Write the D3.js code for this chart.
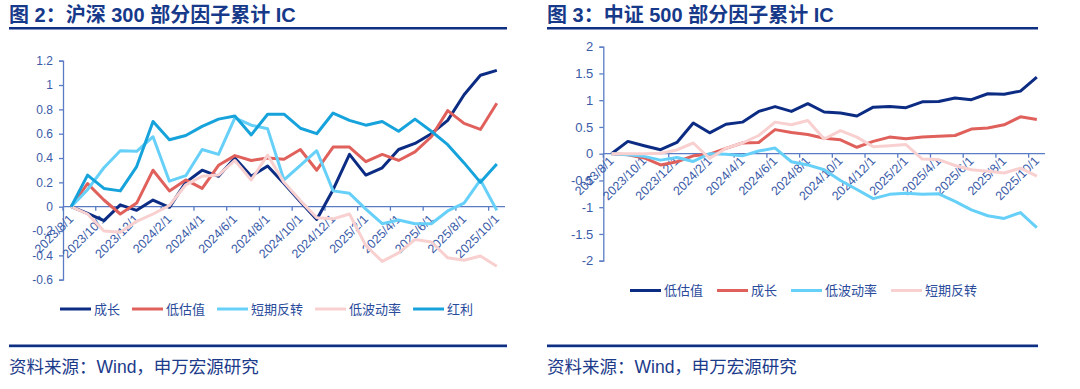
<!DOCTYPE html>
<html>
<head>
<meta charset="utf-8">
<script src="https://cdn.jsdelivr.net/npm/d3@7"></script>
<style>
  html, body { margin: 0; padding: 0; background: #fff; }
  svg { display: block; }
  text { font-family: "Liberation Sans", Arial, "Noto Sans CJK SC", sans-serif; }
  .cjk { font-family: "Liberation Sans", Arial, "Noto Sans CJK SC", sans-serif; }
</style>
</head>
<body>
<svg id="chart" width="1080" height="389"></svg>
<script>
// months on the category axis (labels shown every other month)
const months = [
    "2023/8/1", "2023/9/1", "2023/10/1", "2023/11/1", "2023/12/1",
    "2024/1/1", "2024/2/1", "2024/3/1", "2024/4/1", "2024/5/1", "2024/6/1",
    "2024/7/1", "2024/8/1", "2024/9/1", "2024/10/1", "2024/11/1", "2024/12/1",
    "2025/1/1", "2025/2/1", "2025/3/1", "2025/4/1", "2025/5/1", "2025/6/1",
    "2025/7/1", "2025/8/1", "2025/9/1", "2025/10/1"
];

// 图2 沪深300
const hsNames = ["成长", "低估值", "短期反转", "低波动率", "红利"];
const hsGrowth = [0, -0.055, -0.115, 0.015, -0.03, 0.055, -0.005, 0.2, 0.30, 0.25, 0.40, 0.25, 0.335, 0.19, 0.04, -0.105, 0.14, 0.43, 0.26, 0.32, 0.47, 0.52, 0.60, 0.71, 0.92, 1.08, 1.12];
const hsValue = [0, 0.19, 0.055, -0.06, 0.03, 0.30, 0.13, 0.22, 0.15, 0.34, 0.42, 0.38, 0.40, 0.39, 0.47, 0.30, 0.49, 0.49, 0.37, 0.43, 0.38, 0.45, 0.575, 0.79, 0.685, 0.635, 0.85];
const hsReversal = [0, 0.14, 0.32, 0.46, 0.455, 0.575, 0.21, 0.255, 0.47, 0.43, 0.73, 0.67, 0.64, 0.22, 0.34, 0.46, 0.13, 0.11, -0.02, -0.14, -0.11, -0.14, -0.14, -0.035, 0.03, 0.22, -0.03];
const hsLowVol = [0, -0.06, -0.2, -0.21, -0.12, -0.06, 0.01, 0.18, 0.25, 0.26, 0.38, 0.22, 0.425, 0.2, 0.05, -0.09, -0.1, -0.06, -0.32, -0.45, -0.38, -0.27, -0.29, -0.42, -0.44, -0.405, -0.49];
const hsDividend = [0, 0.26, 0.15, 0.13, 0.33, 0.70, 0.55, 0.585, 0.66, 0.72, 0.745, 0.59, 0.76, 0.76, 0.645, 0.60, 0.77, 0.71, 0.67, 0.70, 0.62, 0.72, 0.62, 0.51, 0.36, 0.20, 0.35];
const hsTicks = [-0.6, -0.4, -0.2, 0, 0.2, 0.4, 0.6, 0.8, 1, 1.2];

// 图3 中证500
const zzNames = ["低估值", "成长", "低波动率", "短期反转"];
const zzValue = [0, 0.23, 0.15, 0.075, 0.21, 0.575, 0.39, 0.55, 0.59, 0.79, 0.88, 0.79, 0.935, 0.78, 0.76, 0.705, 0.87, 0.88, 0.86, 0.97, 0.975, 1.04, 1.01, 1.12, 1.11, 1.17, 1.43];
const zzGrowth = [0, -0.02, -0.08, -0.21, -0.15, -0.04, -0.01, 0.1, 0.2, 0.21, 0.45, 0.395, 0.36, 0.29, 0.26, 0.12, 0.23, 0.31, 0.28, 0.31, 0.325, 0.34, 0.46, 0.48, 0.54, 0.69, 0.64];
const zzLowVol = [0, -0.02, -0.05, -0.12, -0.07, -0.145, 0, -0.01, -0.04, 0.05, 0.105, -0.15, -0.21, -0.3, -0.5, -0.67, -0.84, -0.76, -0.74, -0.76, -0.75, -0.89, -1.05, -1.16, -1.21, -1.1, -1.38];
const zzReversal = [0, 0, 0, 0.01, 0.07, 0.2, -0.09, 0.1, 0.2, 0.34, 0.59, 0.54, 0.62, 0.275, 0.43, 0.31, 0.13, 0.15, 0.17, -0.1, -0.11, -0.22, -0.3, -0.33, -0.36, -0.27, -0.42];
const zzTicks = [-2, -1.5, -1, -0.5, 0, 0.5, 1, 1.5, 2];

const colors = ["#0c2c84", "#e0605c", "#66d0f8", "#f9d0d0", "#16a3dc"];
const titleColor = "#17398a";
const tickColor = "#3a5ba8";
const axisColor = "#5a7cc4";

const svg = d3.select("#chart");

function drawPanel(opt) {
    const g = svg.append("g");

    // title + rule
    g.append("text")
        .attr("class", "cjk")
        .attr("x", opt.left).attr("y", 22)
        .attr("font-size", 20).attr("font-weight", "bold")
        .attr("fill", titleColor)
        .text(opt.title);
    g.append("rect").attr("x", opt.left).attr("y", 27).attr("width", opt.ruleW).attr("height", 2.5).attr("fill", "#0e2f82");

    const x = d3.scaleBand().domain(months).range([opt.x0, opt.x1]).paddingInner(0).paddingOuter(0);
    const y = d3.scaleLinear().domain(opt.domain).range([opt.yBottom, opt.yTop]);

    // y axis
    const yAxis = g.append("g")
        .attr("transform", `translate(${opt.x0},0)`)
        .call(d3.axisLeft(y).tickValues(opt.ticks).tickSize(4).tickPadding(6).tickFormat(d => String(d)));
    yAxis.select(".domain").attr("stroke", axisColor).attr("stroke-width", 1.3);
    yAxis.selectAll(".tick line").attr("stroke", axisColor).attr("stroke-width", 1.3);
    yAxis.selectAll(".tick text").attr("fill", tickColor).attr("font-size", opt.yFont)
        .attr("font-family", "'Liberation Sans', Arial, sans-serif");

    // x axis at zero
    const y0 = y(0);
    g.append("line").attr("x1", opt.x0).attr("x2", opt.x1).attr("y1", y0).attr("y2", y0)
        .attr("stroke", axisColor).attr("stroke-width", 1.3);
    const every = months.filter((m, i) => i % 2 === 0);
    g.selectAll(".xt").data(every).join("line")
        .attr("x1", d => x(d)).attr("x2", d => x(d))
        .attr("y1", y0).attr("y2", y0 + 4)
        .attr("stroke", axisColor).attr("stroke-width", 1.3);
    g.selectAll(".xl").data(every).join("text")
        .attr("transform", d => `translate(${x(d) + x.bandwidth() / 2 + opt.lblDx},${y0 + opt.lblDy}) rotate(-45)`)
        .attr("text-anchor", "end")
        .attr("font-size", 12.5)
        .attr("fill", tickColor)
        .text(d => d);

    // lines
    const line = d3.line()
        .x((d, i) => x(months[i]) + x.bandwidth() / 2)
        .y(d => y(d));
    opt.series.forEach((s, k) => {
        g.append("path")
            .datum(s)
            .attr("fill", "none")
            .attr("stroke", colors[k])
            .attr("stroke-width", 3)
            .attr("stroke-linejoin", "round")
            .attr("d", line);
    });

    // legend
    const leg = g.append("g");
    let lx = opt.legX;
    opt.names.forEach((n, k) => {
        leg.append("line").attr("x1", lx).attr("x2", lx + 31)
            .attr("y1", opt.legY).attr("y2", opt.legY)
            .attr("stroke", colors[k]).attr("stroke-width", 3);
        const t = leg.append("text").attr("class", "cjk")
            .attr("x", lx + 34).attr("y", opt.legY + 4.5)
            .attr("font-size", 13).attr("fill", "#2a4b9b")
            .text(n);
        lx += 34 + t.node().getComputedTextLength() + opt.legGap;
    });

    // bottom rule + source
    g.append("rect").attr("x", opt.left).attr("y", 344.5).attr("width", opt.ruleW).attr("height", 2.5).attr("fill", "#0e2f82");
    g.append("rect").attr("x", opt.left).attr("y", 347).attr("width", opt.ruleW).attr("height", 1).attr("fill", "#c6d8f2");
    g.append("text").attr("class", "cjk")
        .attr("x", opt.left).attr("y", 373)
        .attr("font-size", 17.5).attr("fill", "#1b3a8a")
        .text("资料来源：Wind，申万宏源研究");
}

drawPanel({
    title: "图 2：沪深 300 部分因子累计 IC",
    left: 9, ruleW: 498,
    x0: 63, x1: 505, yTop: 60.7, yBottom: 279.7,
    domain: [-0.6, 1.2], ticks: hsTicks, yFont: 12,
    lblDx: 3, lblDy: 13,
    series: [hsGrowth, hsValue, hsReversal, hsLowVol, hsDividend],
    names: hsNames,
    legX: 60, legY: 309, legGap: 12
});

drawPanel({
    title: "图 3：中证 500 部分因子累计 IC",
    left: 547, ruleW: 491,
    x0: 603.3, x1: 1045, yTop: 46.7, yBottom: 260.7,
    domain: [-2, 2], ticks: zzTicks, yFont: 13,
    lblDx: 3, lblDy: 8,
    series: [zzValue, zzGrowth, zzLowVol, zzReversal],
    names: zzNames,
    legX: 630, legY: 290.5, legGap: 14
});
</script>
</body>
</html>
